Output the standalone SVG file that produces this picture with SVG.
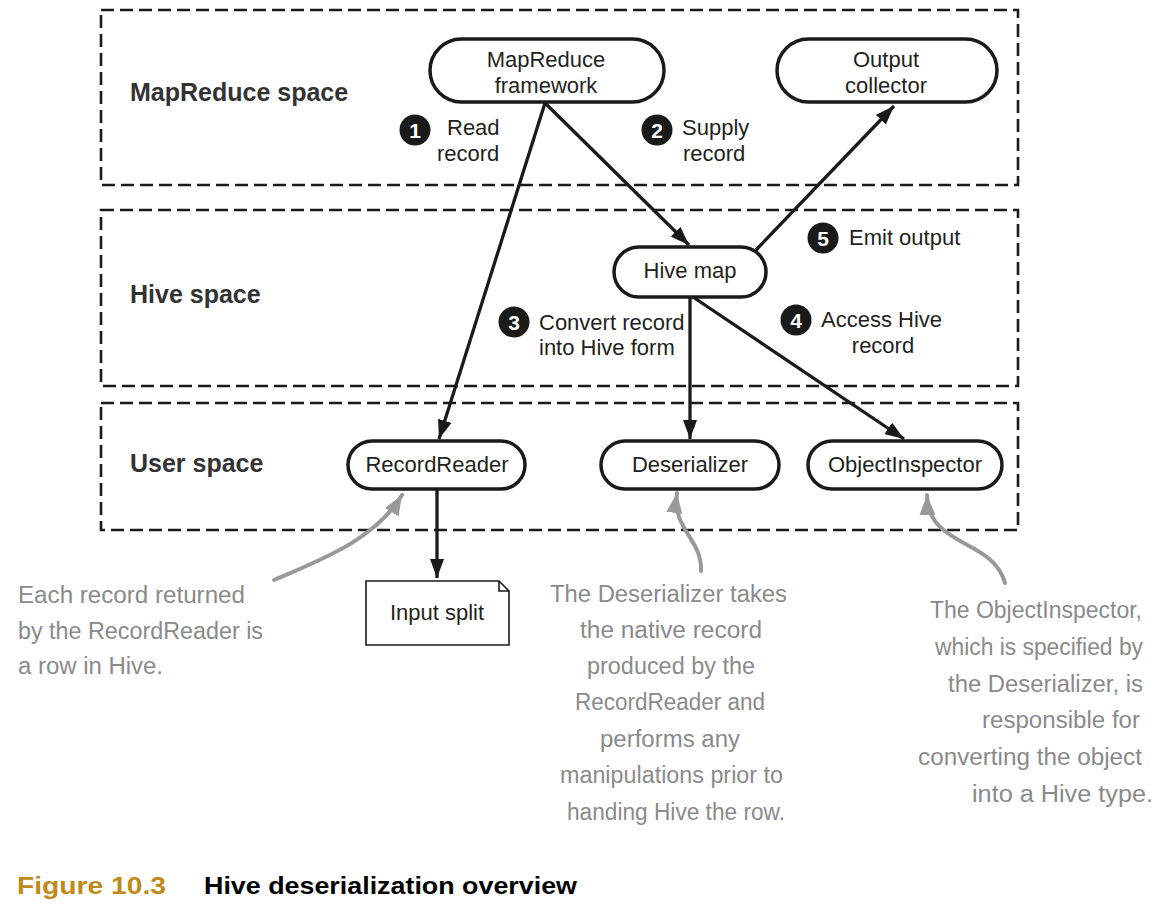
<svg xmlns="http://www.w3.org/2000/svg" width="1159" height="918" viewBox="0 0 1159 918">
<style>
.space{fill:none;stroke:#1a1a1a;stroke-width:2.6;stroke-dasharray:13 6}
.node{fill:#fff;stroke:#1a1a1a;stroke-width:3.5}
.doc{fill:#fff;stroke:#1a1a1a;stroke-width:1.6}
.t{font-family:"Liberation Sans",Arial,sans-serif;font-size:22px;fill:#231f20}
.sec{font-family:"Liberation Sans",Arial,sans-serif;font-size:25px;font-weight:bold;fill:#333}
.num{font-family:"Liberation Sans",Arial,sans-serif;font-size:21px;font-weight:bold;fill:#fff;text-anchor:middle}
.mid{text-anchor:middle}
.hand{font-family:"Liberation Sans Narrow","Liberation Sans",sans-serif;font-size:23px;fill:#8a8a8a}
.edge{fill:none;stroke:#1a1a1a;stroke-width:3.3}
.note{fill:none;stroke:#999;stroke-width:4;stroke-linecap:round}
.cap{font-family:"Liberation Sans",Arial,sans-serif;font-size:24px;font-weight:bold}
</style>
<defs>
<marker id="ah" markerUnits="userSpaceOnUse" markerWidth="20" markerHeight="14" refX="19" refY="7" orient="auto">
<path d="M0,0 L19,7 L0,14 Z" fill="#1a1a1a"/>
</marker>
<marker id="gh" markerUnits="userSpaceOnUse" markerWidth="22" markerHeight="16" refX="20" refY="8" orient="auto">
<path d="M0,0 L20,8 L0,16 Z" fill="#999"/>
</marker>
</defs>

<g id="spaces">
<rect class="space" x="101" y="10" width="917" height="175"/>
<rect class="space" x="101" y="210" width="917" height="176"/>
<rect class="space" x="101" y="403" width="917" height="127"/>
<text class="sec" x="130" y="101">MapReduce space</text>
<text class="sec" x="130" y="303">Hive space</text>
<text class="sec" x="130" y="472">User space</text>
</g>

<g id="connectors">
<line class="edge" x1="545" y1="103" x2="439" y2="439" marker-end="url(#ah)"/>
<line class="edge" x1="545" y1="103" x2="689" y2="245" marker-end="url(#ah)"/>
<line class="edge" x1="756" y1="250" x2="894" y2="106" marker-end="url(#ah)"/>
<line class="edge" x1="690" y1="297" x2="690" y2="439" marker-end="url(#ah)"/>
<line class="edge" x1="693" y1="297" x2="904" y2="439" marker-end="url(#ah)"/>
<line class="edge" x1="437" y1="489" x2="437" y2="578" marker-end="url(#ah)"/>
<path class="note" d="M274,580 C320,560 375,540 402,495" marker-end="url(#gh)"/>
<path class="note" d="M701,571 C702,538 672,530 677,493" marker-end="url(#gh)"/>
<path class="note" d="M1005,583 C993,538 928,548 927,495" marker-end="url(#gh)"/>
</g>

<g id="mapreduce-framework">
<rect class="node" x="430" y="39" width="234" height="63" rx="31.5"/>
<text class="t mid" x="546" y="67">MapReduce</text>
<text class="t mid" x="546" y="93">framework</text>
</g>
<g id="output-collector">
<rect class="node" x="777" y="39" width="220" height="63" rx="31.5"/>
<text class="t mid" x="886" y="67">Output</text>
<text class="t mid" x="886" y="93">collector</text>
</g>
<g id="hive-map">
<rect class="node" x="614" y="247" width="152" height="50" rx="25"/>
<text class="t mid" x="690" y="278">Hive map</text>
</g>
<g id="recordreader">
<rect class="node" x="348" y="441" width="177" height="48" rx="24"/>
<text class="t mid" x="437" y="472">RecordReader</text>
</g>
<g id="deserializer">
<rect class="node" x="601" y="441" width="178" height="48" rx="24"/>
<text class="t mid" x="690" y="472">Deserializer</text>
</g>
<g id="objectinspector">
<rect class="node" x="808" y="441" width="194" height="48" rx="24"/>
<text class="t mid" x="905" y="472">ObjectInspector</text>
</g>
<g id="input-split">
<path class="doc" d="M366,581 H499 L509,591 V645 H366 Z M499,581 V591 H509"/>
<text class="t mid" x="437" y="620">Input split</text>
</g>

<g id="step-labels">
<circle cx="415" cy="130" r="15.5" fill="#1a1a1a"/><text class="num" x="415" y="137.5">1</text>
<text class="t" x="447" y="135">Read</text>
<text class="t" x="437" y="161">record</text>
<circle cx="657" cy="130" r="15.5" fill="#1a1a1a"/><text class="num" x="657" y="137.5">2</text>
<text class="t" x="682" y="135">Supply</text>
<text class="t" x="683" y="161">record</text>
<circle cx="823" cy="238" r="15.5" fill="#1a1a1a"/><text class="num" x="823" y="245.5">5</text>
<text class="t" x="849" y="245">Emit output</text>
<circle cx="514" cy="322" r="15.5" fill="#1a1a1a"/><text class="num" x="514" y="329.5">3</text>
<text class="t" x="539" y="330">Convert record</text>
<text class="t" x="539" y="355">into Hive form</text>
<circle cx="796" cy="320" r="15.5" fill="#1a1a1a"/><text class="num" x="796" y="327.5">4</text>
<text class="t" x="821" y="327">Access Hive</text>
<text class="t mid" x="883" y="353">record</text>
</g>

<g id="annotations">
<text class="hand" x="18" y="603" textLength="227" lengthAdjust="spacingAndGlyphs">Each record returned</text>
<text class="hand" x="18" y="639" textLength="245" lengthAdjust="spacingAndGlyphs">by the RecordReader is</text>
<text class="hand" x="18" y="674" textLength="145" lengthAdjust="spacingAndGlyphs">a row in Hive.</text>

<text class="hand" x="550" y="602" textLength="237" lengthAdjust="spacingAndGlyphs">The Deserializer takes</text>
<text class="hand" x="580" y="638" textLength="182" lengthAdjust="spacingAndGlyphs">the native record</text>
<text class="hand" x="587" y="674" textLength="168" lengthAdjust="spacingAndGlyphs">produced by the</text>
<text class="hand" x="575" y="710" textLength="190" lengthAdjust="spacingAndGlyphs">RecordReader and</text>
<text class="hand" x="600" y="747" textLength="140" lengthAdjust="spacingAndGlyphs">performs any</text>
<text class="hand" x="560" y="783" textLength="223" lengthAdjust="spacingAndGlyphs">manipulations prior to</text>
<text class="hand" x="567" y="820" textLength="218" lengthAdjust="spacingAndGlyphs">handing Hive the row.</text>

<text class="hand" x="930" y="618" textLength="212" lengthAdjust="spacingAndGlyphs">The ObjectInspector,</text>
<text class="hand" x="935" y="655" textLength="208" lengthAdjust="spacingAndGlyphs">which is specified by</text>
<text class="hand" x="948" y="692" textLength="195" lengthAdjust="spacingAndGlyphs">the Deserializer, is</text>
<text class="hand" x="982" y="728" textLength="158" lengthAdjust="spacingAndGlyphs">responsible for</text>
<text class="hand" x="918" y="765" textLength="224" lengthAdjust="spacingAndGlyphs">converting the object</text>
<text class="hand" x="972" y="802" textLength="181" lengthAdjust="spacingAndGlyphs">into a Hive type.</text>
</g>

<g id="caption">
<text class="cap" x="17" y="894" fill="#bf8a1a" textLength="149" lengthAdjust="spacingAndGlyphs">Figure 10.3</text>
<text class="cap" x="204" y="894" fill="#000" textLength="373" lengthAdjust="spacingAndGlyphs">Hive deserialization overview</text>
</g>
</svg>
